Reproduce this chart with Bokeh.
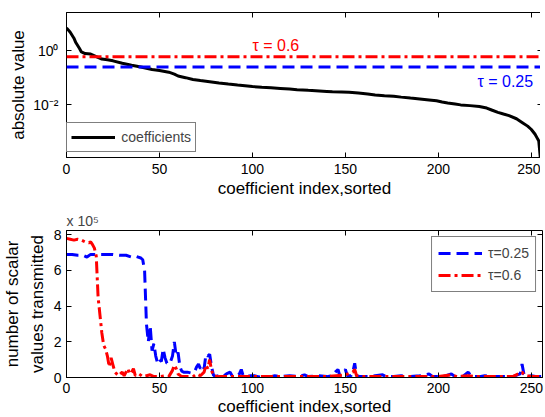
from bokeh.plotting import figure
from bokeh.models import (Span, Label, FixedTicker, LinearAxis, LogAxis, Range1d)
from bokeh.layouts import column
from bokeh.embed import file_html
from bokeh.resources import INLINE

FONT = "Liberation Sans"

# ---------------- data: top panel (sorted absolute coefficient values) ----------------
coef_index = [0, 2, 4, 5, 7, 8, 10, 13, 16, 19, 22, 25, 30, 35, 40, 46, 50, 55, 58, 60,
              64, 68, 72, 77, 82, 87, 92, 96, 100, 105, 110, 115, 120, 124, 130, 134, 140,
              143, 148, 152, 157, 162, 166, 171, 176, 180, 185, 190, 195, 199, 202, 205,
              209, 212, 217, 222, 226, 229, 232, 235, 238, 242, 245, 248, 250, 252, 253,
              254, 255, 256]
coef_abs = [7.0, 4.8, 2.9, 2.0, 1.2, 0.9, 0.78, 0.75, 0.6, 0.49, 0.46, 0.42, 0.34, 0.29,
            0.25, 0.2, 0.185, 0.16, 0.135, 0.115, 0.1, 0.086, 0.078, 0.071, 0.064, 0.058,
            0.053, 0.05, 0.047, 0.044, 0.042, 0.04, 0.038, 0.036, 0.034, 0.033, 0.031,
            0.030, 0.0295, 0.029, 0.027, 0.025, 0.023, 0.0215, 0.0205, 0.019, 0.0175,
            0.0163, 0.015, 0.014, 0.0125, 0.0115, 0.0105, 0.0098, 0.0092, 0.0085, 0.0075,
            0.0062, 0.0052, 0.0045, 0.0039, 0.0030, 0.0022, 0.0016, 0.0012, 0.0008,
            0.0006, 0.00045, 0.00008, 0.00005]
tau_high = 0.6
tau_low = 0.25
x_ticks = [0, 50, 100, 150, 200, 250]

# ---------------- data: bottom panel (number of scalar values transmitted, x 1e5) -----
idx_b = [0, 3, 6, 9, 11, 13, 16, 20, 25, 29, 32, 35, 37, 40, 41, 42, 43, 44, 45, 46, 47,
         48, 49, 50, 51, 52, 53, 54, 55, 56, 57, 58, 59, 60, 61, 62, 63, 65, 67, 69, 70,
         71, 72, 73, 74, 75, 76, 77, 78, 79, 80, 82, 84, 86, 88, 89, 91, 93, 94, 95, 97,
         99, 101, 103, 105, 110, 112, 115, 120, 125, 128, 130, 135, 140, 143, 145, 146,
         147, 149, 150, 151, 153, 154, 155, 156, 158, 162, 166, 170, 172, 176, 180, 185,
         190, 195, 197, 200, 204, 207, 209, 213, 216, 218, 222, 225, 230, 235, 240, 244,
         245, 246, 248, 250, 253, 256]
val_b = [6.9, 6.9, 6.85, 6.85, 6.75, 6.9, 6.9, 6.9, 6.9, 6.85, 6.85, 6.75, 6.8, 6.7, 6.6,
         6.0, 3.0, 2.0, 2.9, 1.5, 1.9, 1.2, 0.8, 1.0, 0.9, 1.6, 1.1, 0.8, 0.75, 0.9, 1.2,
         2.0, 1.2, 1.4, 0.6, 0.35, 0.3, 0.3, 0.25, 0.35, 0.6, 0.75, 0.5, 0.7, 0.5, 1.3,
         1.2, 1.3, 0.6, 0.15, 0.05, 0.1, 0.05, 0.2, 0.3, 0.1, 0.05, 0.2, 0.45, 0.1, 0.05,
         0.1, 0.1, 0.05, 0.0, 0.05, 0.1, 0.05, 0.1, 0.05, 0.15, 0.05, 0.1, 0.05, 0.1, 0.35,
         0.45, 0.1, 0.3, 0.45, 0.1, 0.1, 0.3, 0.8, 0.1, 0.05, 0.05, 0.1, 0.15, 0.05, 0.05,
         0.1, 0.05, 0.1, 0.2, 0.05, 0.05, 0.1, 0.2, 0.05, 0.05, 0.3, 0.05, 0.05, 0.1, 0.05,
         0.05, 0.05, 0.2, 0.75, 0.2, 0.05, 0.1, 0.05, 0.05]

idx_r = [0, 2, 4, 6, 8, 10, 12, 13, 14, 15, 16, 17, 18, 19, 20, 21, 22, 23, 24, 25, 26,
         27, 28, 29, 30, 31, 33, 34, 35, 36, 37, 39, 41, 43, 45, 47, 50, 53, 55, 57, 58,
         59, 60, 62, 65, 68, 70, 72, 74, 75, 76, 77, 78, 79, 82, 90, 100, 110, 120, 130,
         140, 145, 150, 154, 155, 156, 160, 170, 180, 190, 200, 207, 210, 216, 220, 230,
         240, 245, 246, 250, 256]
val_r = [7.8, 7.75, 7.7, 7.75, 7.7, 7.6, 7.55, 7.6, 7.45, 7.25, 6.8, 4.5, 3.5, 2.5, 1.8,
         1.6, 1.2, 0.6, 1.1, 0.7, 0.3, 0.2, 0.1, 0.2, 0.3, 0.1, 0.5, 0.2, 0.3, 0.5, 0.1,
         0.2, 0.05, 0.1, 0.15, 0.05, 0.05, 0.1, 0.05, 0.4, 0.7, 0.5, 0.2, 0.05, 0.05, 0.05,
         0.2, 0.1, 0.3, 0.7, 0.5, 1.0, 0.4, 0.1, 0.05, 0.05, 0.05, 0.05, 0.05, 0.05, 0.05,
         0.1, 0.15, 0.3, 0.45, 0.1, 0.05, 0.05, 0.05, 0.05, 0.05, 0.15, 0.05, 0.1, 0.05,
         0.05, 0.05, 0.3, 0.15, 0.05, 0.05]
y2_ticks = [0, 2, 4, 6, 8]


def style_axis(ax, label_size="14px"):
    ax.major_tick_in = 5
    ax.major_tick_out = 0
    ax.minor_tick_in = 0
    ax.minor_tick_out = 0
    ax.axis_line_color = "black"
    ax.major_tick_line_color = "black"
    ax.major_label_text_font = FONT
    ax.major_label_text_font_size = label_size
    ax.major_label_text_color = "black"
    ax.axis_label_text_font = FONT
    ax.axis_label_text_font_size = "17px"
    ax.axis_label_text_font_style = "normal"
    ax.axis_label_text_color = "black"


def add_box_ticks(p, xt, yt, log_y=False):
    top = LinearAxis(ticker=FixedTicker(ticks=xt))
    right = (LogAxis if log_y else LinearAxis)(ticker=FixedTicker(ticks=yt))
    for ax in (top, right):
        style_axis(ax, "0px")
        ax.major_label_standoff = 0
        ax.axis_line_color = None
    top.major_label_overrides = {t: "" for t in xt}
    right.major_label_overrides = {t: "" for t in yt}
    p.add_layout(top, "above")
    p.add_layout(right, "right")


# ---------------- top figure ----------------
p1 = figure(frame_width=476, frame_height=145, x_range=Range1d(0, 256),
            y_range=Range1d(1.1e-4, 26), y_axis_type="log",
            output_backend="svg", toolbar_location=None,
            min_border_left=57, min_border_right=4, min_border_top=12, min_border_bottom=43)
p1.grid.visible = False
p1.outline_line_color = "black"
p1.background_fill_color = "white"
p1.border_fill_color = "white"

p1.line(coef_index, coef_abs, color="black", line_width=3, legend_label="coefficients")
p1.add_layout(Span(location=tau_high, dimension="width", line_color="red",
                   line_width=3, line_dash="12 4 3 4"))
p1.add_layout(Span(location=tau_low, dimension="width", line_color="blue",
                   line_width=3, line_dash="12 6"))
p1.add_layout(Label(x=100, y=1.5, text="τ = 0.6", text_color="red", text_font=FONT,
                    text_font_size="16px", text_baseline="middle"))
p1.add_layout(Label(x=221, y=0.071, text="τ = 0.25", text_color="blue", text_font=FONT,
                    text_font_size="16px", text_baseline="middle"))

p1.xaxis.ticker = FixedTicker(ticks=x_ticks)
p1.yaxis.ticker = FixedTicker(ticks=[0.01, 1])
p1.yaxis.major_label_overrides = {0.01: "10⁻²", 1: "10⁰"}
style_axis(p1.xaxis[0])
style_axis(p1.yaxis[0])
p1.xaxis.axis_label = "coefficient index,sorted"
p1.yaxis.axis_label = "absolute value"
p1.xaxis.major_label_standoff = 6
p1.xaxis.axis_label_standoff = 2
p1.yaxis.major_label_standoff = 8
p1.yaxis.axis_label_standoff = 2
add_box_ticks(p1, x_ticks, [0.01, 1], log_y=True)

lg1 = p1.legend[0]
lg1.location = "bottom_left"
lg1.margin = 5
lg1.border_line_color = "black"
lg1.border_line_width = 1
lg1.label_text_font = FONT
lg1.label_text_font_size = "14px"
lg1.glyph_width = 44
lg1.padding = 4
lg1.spacing = 0
lg1.label_standoff = 6

# ---------------- bottom figure ----------------
p2 = figure(frame_width=476, frame_height=147, x_range=Range1d(0, 256),
            y_range=Range1d(0, 8.24), title="x 10⁵",
            output_backend="svg", toolbar_location=None,
            min_border_left=57, min_border_right=4, min_border_top=30, min_border_bottom=40)
p2.grid.visible = False
p2.outline_line_color = "black"
p2.title.align = "left"
p2.title.text_font = FONT
p2.title.text_font_size = "14px"
p2.title.text_font_style = "normal"
p2.title.standoff = 4

p2.line(idx_b, val_b, color="blue", line_width=3, line_dash="12 6", legend_label="τ=0.25")
p2.line(idx_r, val_r, color="red", line_width=3, line_dash="12 4 3 4", legend_label="τ=0.6")

p2.xaxis.ticker = FixedTicker(ticks=x_ticks)
p2.yaxis.ticker = FixedTicker(ticks=y2_ticks)
style_axis(p2.xaxis[0])
style_axis(p2.yaxis[0])
p2.xaxis.axis_label = "coefficient index,sorted"
p2.yaxis.axis_label = "number of scalar\nvalues transmitted"
p2.yaxis.axis_label_text_line_height = 1.3
p2.xaxis.major_label_standoff = 5
p2.xaxis.axis_label_standoff = 1
p2.yaxis.major_label_standoff = 5
p2.yaxis.axis_label_standoff = 4
add_box_ticks(p2, x_ticks, y2_ticks)

lg2 = p2.legend[0]
lg2.location = "top_right"
lg2.margin = 6
lg2.border_line_color = "black"
lg2.label_text_font = FONT
lg2.label_text_font_size = "14px"
lg2.glyph_width = 44
lg2.padding = 6
lg2.spacing = 2
lg2.label_standoff = 6

layout = column(p1, p2)
open("out.html", "w").write(file_html(layout, INLINE))
